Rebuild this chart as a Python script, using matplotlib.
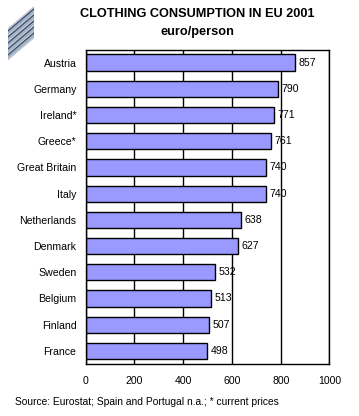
import numpy as np
import matplotlib
matplotlib.use("Agg")
import matplotlib.pyplot as plt
from matplotlib.patches import Polygon

countries = ["Austria","Germany","Ireland*","Greece*","Great Britain","Italy","Netherlands","Denmark","Sweden","Belgium","Finland","France"]
values = [857,790,771,761,740,740,638,627,532,513,507,498]
xticks = [0,200,400,600,800,1000]
title = "CLOTHING CONSUMPTION IN EU 2001"
subtitle = "euro/person"
source = "Source: Eurostat; Spain and Portugal n.a.; * current prices"

W,H = 359,416
plt.rcParams['font.family'] = ['Liberation Sans','DejaVu Sans']
fig = plt.figure(figsize=(W/100,H/100),dpi=100,facecolor='white')
L,R,T,B = 85.5,329.5,49.5,364
ax = fig.add_axes([L/W,1-B/H,(R-L)/W,(B-T)/H])
y = np.arange(len(countries))
ax.xaxis.grid(True,color='black',lw=1)
ax.set_axisbelow(True)
ax.barh(y,values,height=0.62,color='#9999ff',edgecolor='black',lw=1)
for yi,v in zip(y,values):
    ax.text(v+14,yi,str(v),va='center',ha='left',fontsize=7.6,color='black')
ax.set_xlim(0,1000); ax.set_ylim(len(countries)-0.5,-0.5)
ax.set_xticks(xticks); ax.set_yticks(y); ax.set_yticklabels(countries)
ax.tick_params(axis='both',length=0,labelsize=7.6)
ax.tick_params(axis='x',pad=8.5)
ax.tick_params(axis='y',pad=6.5)
for s in ax.spines.values(): s.set_linewidth(1)
fig.text(197/W,1-14/H,title,ha='center',va='center',fontsize=9.2,fontweight='bold')
fig.text(197/W,1-32/H,subtitle,ha='center',va='center',fontsize=9.2,fontweight='bold')
fig.text(15/W,1-402/H,source,ha='left',va='center',fontsize=7.35)

# striped decorative logo
lg = fig.add_axes([0,0,1,1],facecolor='none'); lg.set_xlim(0,W); lg.set_ylim(H,0); lg.axis('off')
logo = Polygon([(8,28),(34,6),(34,38),(8,60)],closed=True,fc='#c3c6d6',ec='none')
lg.add_patch(logo)
for i in range(7):
    d = i*6.0
    ln, = lg.plot([8,34],[31+d,9+d],color='#3f5078',lw=1.0)
    ln.set_clip_path(logo)
    ln2, = lg.plot([8,34],[33.5+d,11.5+d],color='#8fb0b0',lw=0.8)
    ln2.set_clip_path(logo)
fig.savefig('out.png',dpi=100)
